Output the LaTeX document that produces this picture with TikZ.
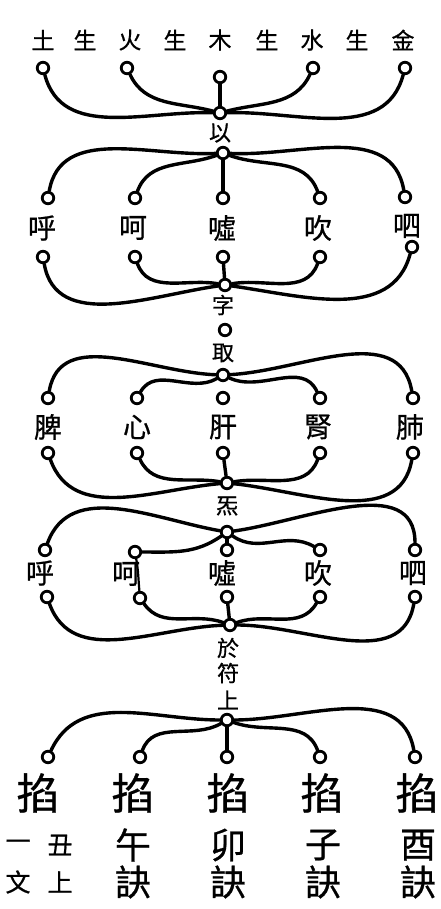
\documentclass[tikz,border=0pt]{standalone}
\usepackage{fontspec}
\newfontfamily\cjk[FakeBold=0.7]{Noto Sans CJK TC}
\begin{document}
\begin{tikzpicture}[x=1pt,y=-1pt,
  dot/.style={circle,draw,line width=2.8pt,minimum size=11.5pt,inner sep=0pt,fill=white},
  conn/.style={line width=3.4pt,line cap=round},
  lbl/.style={font=\cjk\fontsize{28}{28}\selectfont,inner sep=0pt},
  toplbl/.style={font=\cjk\fontsize{23}{23}\selectfont,inner sep=0pt},
  midlbl/.style={font=\cjk\fontsize{22}{22}\selectfont,inner sep=0pt},
  biglbl/.style={font=\cjk\fontsize{43}{43}\selectfont,inner sep=0pt},
  medlbl/.style={font=\cjk\fontsize{36}{36}\selectfont,inner sep=0pt},
  smllbl/.style={font=\cjk\fontsize{25}{25}\selectfont,inner sep=0pt}]
\useasboundingbox (0,0) rectangle (441,909);
% top row
\node[toplbl] (t1) at (43,40) {土};
\node[toplbl] (t2) at (85,40) {生};
\node[toplbl] (t3) at (130,40) {火};
\node[toplbl] (t4) at (175,40) {生};
\node[toplbl] (t5) at (220,40) {木};
\node[toplbl] (t6) at (267,40) {生};
\node[toplbl] (t7) at (312,40) {水};
\node[toplbl] (t8) at (357,40) {生};
\node[toplbl] (t9) at (403,40) {金};
% section 1
\node[dot] (a1) at (43,68) {};
\node[dot] (a2) at (127,68) {};
\node[dot] (a3) at (220,77) {};
\node[dot] (a4) at (313,68) {};
\node[dot] (a5) at (405,68) {};
\node[dot] (hA) at (220,113) {};
\node[midlbl] (yi) at (220,133) {以};
\node[dot] (hB) at (223,153) {};
\draw[conn] (a1) to[out=-75,in=178] (hA);
\draw[conn] (a2) to[out=-65,in=165] (hA);
\draw[conn] (a3) -- (hA);
\draw[conn] (a4) to[out=-115,in=15] (hA);
\draw[conn] (a5) to[out=-105,in=2] (hA);
% section 2
\node[dot] (b1) at (48,198) {};
\node[dot] (b2) at (135,198) {};
\node[dot] (b3) at (223,198) {};
\node[dot] (b4) at (320,198) {};
\node[dot] (b5) at (405,197) {};
\node[lbl] (bl1) at (42,228) {呼};
\node[lbl] (bl2) at (133,228) {呵};
\node[lbl] (bl3) at (222,228) {噓};
\node[lbl] (bl4) at (318,228) {吹};
\node[lbl] (bl5) at (407,226) {呬};
\node[dot] (c1) at (43,257) {};
\node[dot] (c2) at (135,257) {};
\node[dot] (c3) at (223,257) {};
\node[dot] (c4) at (320,257) {};
\node[dot] (c5) at (412,247) {};
\node[dot] (hC) at (225,285) {};
\draw[conn] (hB) to[out=183,in=80] (b1);
\draw[conn] (hB) to[out=200,in=70] (b2);
\draw[conn] (hB) -- (b3);
\draw[conn] (hB) to[out=-20,in=110] (b4);
\draw[conn] (hB) to[out=-3,in=100] (b5);
\draw[conn] (c1) to[out=-80,in=188] (hC);
\draw[conn] (c2) to[out=-70,in=170] (hC);
\draw[conn] (c3) -- (hC);
\draw[conn] (c4) to[out=-110,in=10] (hC);
\draw[conn] (c5) to[out=-105,in=-8] (hC);
\node[midlbl] (zi) at (223,305) {字};
\node[dot] (m1) at (225,330) {};
\node[midlbl] (qu) at (223,353) {取};
\node[dot] (hD) at (223,375) {};
% section 3
\node[dot] (d1) at (48,398) {};
\node[dot] (d2) at (137,398) {};
\node[dot] (d3) at (223,398) {};
\node[dot] (d4) at (320,398) {};
\node[dot] (d5) at (413,398) {};
\node[lbl] (dl1) at (48,427) {脾};
\node[lbl] (dl2) at (137,427) {心};
\node[lbl] (dl3) at (223,427) {肝};
\node[lbl] (dl4) at (318,427) {腎};
\node[lbl] (dl5) at (410,427) {肺};
\node[dot] (e1) at (48,453) {};
\node[dot] (e2) at (137,453) {};
\node[dot] (e3) at (223,453) {};
\node[dot] (e4) at (320,453) {};
\node[dot] (e5) at (413,453) {};
\node[dot] (hE) at (227,483) {};
\draw[conn] (hD) to[out=178,in=80] (d1);
\draw[conn] (hD) to[out=210,in=60] (d2);
\draw[conn] (hD) to[out=-25,in=115] (d4);
\draw[conn] (hD) to[out=3,in=100] (d5);
\draw[conn] (e1) to[out=-70,in=185] (hE);
\draw[conn] (e2) to[out=-65,in=170] (hE);
\draw[conn] (e3) -- (hE);
\draw[conn] (e4) to[out=-110,in=10] (hE);
\draw[conn] (e5) to[out=-100,in=-6] (hE);
\node[midlbl] (qi) at (227,506) {炁};
\node[dot] (hF) at (227,532) {};
% section 4
\node[dot] (f1) at (45,550) {};
\node[dot] (f2) at (135,552) {};
\node[dot] (f3) at (227,550) {};
\node[dot] (f4) at (320,550) {};
\node[dot] (f5) at (415,550) {};
\node[lbl] (fl1) at (40,573) {呼};
\node[lbl] (fl2) at (126,574) {呵};
\node[lbl] (fl3) at (222,573) {噓};
\node[lbl] (fl4) at (318,573) {吹};
\node[lbl] (fl5) at (413,573) {呬};
\node[dot] (g1) at (47,597) {};
\node[dot] (g2) at (140,598) {};
\node[dot] (g3) at (227,597) {};
\node[dot] (g4) at (320,597) {};
\node[dot] (g5) at (415,597) {};
\node[dot] (hG) at (230,625) {};
\draw[conn] (hF) to[out=170,in=70] (f1);
\draw[conn] (hF) to[out=215,in=0] (f2);
\draw[conn] (hF) -- (f3);
\draw[conn] (hF) to[out=-35,in=150] (f4);
\draw[conn] (hF) to[out=8,in=90] (f5);
\draw[conn,line width=2.2pt] (f2) to[out=-80,in=95] (g2);
\draw[conn] (g1) to[out=-70,in=182] (hG);
\draw[conn] (g2) to[out=-55,in=160] (hG);
\draw[conn] (g3) -- (hG);
\draw[conn] (g4) to[out=-120,in=20] (hG);
\draw[conn] (g5) to[out=-100,in=0] (hG);
\node[midlbl] (yu) at (228,648) {於};
\node[midlbl] (fu) at (228,673) {符};
\node[midlbl] (shang) at (228,700) {上};
\node[dot] (hH) at (227,720) {};
% section 5
\node[dot] (k1) at (48,757) {};
\node[dot] (k2) at (140,757) {};
\node[dot] (k3) at (227,757) {};
\node[dot] (k4) at (320,757) {};
\node[dot] (k5) at (415,757) {};
\draw[conn] (hH) to[out=180,in=65] (k1);
\draw[conn] (hH) to[out=210,in=70] (k2);
\draw[conn] (hH) -- (k3);
\draw[conn] (hH) to[out=-20,in=110] (k4);
\draw[conn] (hH) to[out=0,in=100] (k5);
% bottom text
\node[biglbl] (q1) at (38,793) {掐};
\node[biglbl] (q2) at (133,793) {掐};
\node[biglbl] (q3) at (228,793) {掐};
\node[biglbl] (q4) at (322,793) {掐};
\node[biglbl] (q5) at (417,793) {掐};
\node[smllbl] (r1a) at (18,845) {一};
\node[smllbl] (r1b) at (60,845) {丑};
\node[medlbl] (r2) at (133,845) {午};
\node[medlbl] (r3) at (228,845) {卯};
\node[medlbl] (r4) at (323,845) {子};
\node[medlbl] (r5) at (418,845) {酉};
\node[smllbl] (s1a) at (18,882) {文};
\node[smllbl] (s1b) at (60,882) {上};
\node[medlbl] (s2) at (133,882) {訣};
\node[medlbl] (s3) at (228,882) {訣};
\node[medlbl] (s4) at (323,882) {訣};
\node[medlbl] (s5) at (418,882) {訣};
\end{tikzpicture}
\end{document}
